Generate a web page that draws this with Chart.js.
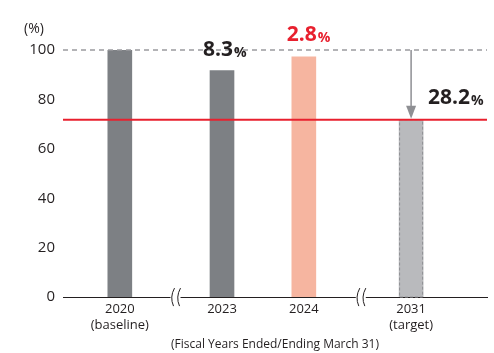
<!DOCTYPE html>
<html>
<head>
<meta charset="utf-8">
<script src="https://cdn.jsdelivr.net/npm/chart.js@4/dist/chart.umd.min.js"></script>
<style>
  html, body { margin: 0; padding: 0; background: #fff; }
  #wrap { width: 494px; height: 353px; position: relative; }
</style>
</head>
<body>
<div id="wrap"><canvas id="barChart"></canvas></div>
<script>
// data
const years = ['2020', '2023', '2024', '2031'];
const subLabels = ['(baseline)', '', '', '(target)'];
const xSlots = [1.34, 3.75, 5.68, 8.21];   // positions on the broken time axis
const values = [100, 91.7, 97.2, 71.8];
const reductions = ['', '8.3', '2.8', '28.2'];
const breakSlots = [2.63, 7.0];
const targetLevel = 71.8;
const baseLevel = 100;

const barColors = ['#7d8084', '#7d8084', '#f6b5a0', '#b9babd'];
const textDark = '#231f20';
const fontFam = '"Open Sans", "Noto Sans", sans-serif';

const overlay = {
  id: 'overlay',
  afterDatasetsDraw(chart) {
    const c = chart.ctx;
    const x = chart.scales.x, y = chart.scales.y;
    const area = chart.chartArea;
    const bars = chart.getDatasetMeta(0).data;
    c.save();

    // dashed baseline at 100
    c.strokeStyle = '#9a9b9e';
    c.lineWidth = 1.5;
    c.setLineDash([5, 4]);
    c.beginPath();
    c.moveTo(area.left, y.getPixelForValue(baseLevel));
    c.lineTo(area.right, y.getPixelForValue(baseLevel));
    c.stroke();

    // dashed outline of the target bar
    const tb = bars[3];
    c.strokeStyle = '#8e8f93';
    c.lineWidth = 1;
    c.setLineDash([3, 2]);
    c.strokeRect(tb.x - tb.width / 2 + 0.5, tb.y, tb.width - 1, tb.base - tb.y);
    c.setLineDash([]);

    // red target line
    c.strokeStyle = '#e8202e';
    c.lineWidth = 2;
    c.beginPath();
    c.moveTo(area.left, y.getPixelForValue(targetLevel));
    c.lineTo(area.right, y.getPixelForValue(targetLevel));
    c.stroke();

    // arrow from 100 down to target
    const ax = tb.x;
    const y0 = y.getPixelForValue(baseLevel);
    const y1 = y.getPixelForValue(targetLevel);
    c.strokeStyle = '#8e8f93';
    c.fillStyle = '#8e8f93';
    c.lineWidth = 1.5;
    c.beginPath();
    c.moveTo(ax, y0);
    c.lineTo(ax, y1 - 10);
    c.stroke();
    c.beginPath();
    c.moveTo(ax - 5, y1 - 14);
    c.lineTo(ax + 5, y1 - 14);
    c.lineTo(ax, y1 - 1);
    c.closePath();
    c.fill();

    // axis break marks
    c.strokeStyle = textDark;
    c.lineWidth = 1;
    breakSlots.forEach(s => {
      const bx = x.getPixelForValue(s);
      const by = area.bottom;
      c.fillStyle = '#fff';
      c.fillRect(bx - 4, by - 2, 10, 4);
      [-2, 4].forEach(dx => {
        c.beginPath();
        c.moveTo(bx + dx + 2, by - 9);
        c.quadraticCurveTo(bx + dx - 3, by, bx + dx + 1, by + 9);
        c.stroke();
      });
    });

    // reduction labels
    const labelPos = [null, [-19, 50], [-17, 35], [17, 98]];
    reductions.forEach((r, i) => {
      if (!r) return;
      const b = bars[i];
      const lx = b.x + labelPos[i][0];
      const ly = labelPos[i][1];
      c.fillStyle = i === 2 ? '#e8202e' : textDark;
      c.textBaseline = 'middle';
      c.textAlign = 'left';
      c.font = 'bold 21px ' + fontFam;
      c.fillText(r, lx, ly);
      const w = c.measureText(r).width;
      c.font = 'bold 14px ' + fontFam;
      c.fillText('%', lx + w + 1, ly + 3);
    });

    // unit label
    c.fillStyle = textDark;
    c.font = '14px ' + fontFam;
    c.textAlign = 'left';
    c.fillText('(%)', 24, 29);
    c.restore();
  }
};

const ctx = document.getElementById('barChart').getContext('2d');
const barChart = new Chart(ctx, {
  type: 'bar',
  data: {
    datasets: [{
      data: xSlots.map((s, i) => ({ x: s, y: values[i] })),
      backgroundColor: barColors,
      borderWidth: 0,
      barThickness: 24
    }]
  },
  options: {
    responsive: true,
    maintainAspectRatio: false,
    animation: false,
    layout: { padding: { top: 50, right: 7, left: 0, bottom: 1 } },
    plugins: {
      legend: { display: false },
      tooltip: { enabled: false }
    },
    scales: {
      x: {
        type: 'linear',
        min: 0,
        max: 10,
        offset: false,
        afterBuildTicks: scale => { scale.ticks = xSlots.map(v => ({ value: v })); },
        ticks: {
          autoSkip: false,
          maxRotation: 0,
          padding: 4,
          color: textDark,
          font: { family: fontFam, size: 13, lineHeight: 1.25 },
          callback: (v, i) => subLabels[i] ? [years[i], subLabels[i]] : years[i]
        },
        grid: { display: false, drawTicks: false },
        border: { color: textDark, width: 1 },
        title: {
          display: true,
          text: '(Fiscal Years Ended/Ending March 31)',
          color: textDark,
          font: { family: fontFam, size: 12 },
          padding: { top: 0, bottom: 0 }
        }
      },
      y: {
        min: 0,
        max: 100,
        afterFit: scale => { scale.width = 63; },
        ticks: {
          stepSize: 20,
          padding: 8,
          color: textDark,
          font: { family: fontFam, size: 15 }
        },
        grid: { display: false, drawTicks: false },
        border: { display: false }
      }
    }
  },
  plugins: [overlay]
});
</script>
</body>
</html>
